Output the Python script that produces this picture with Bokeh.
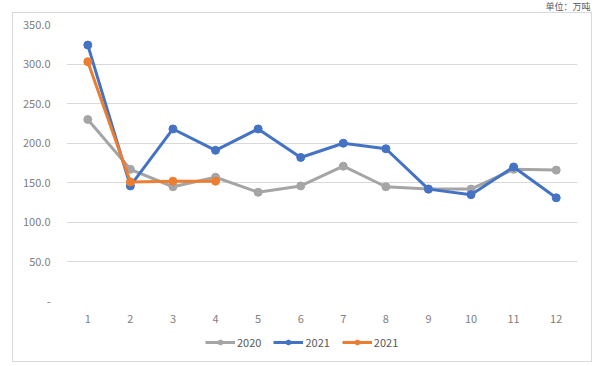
from bokeh.plotting import figure
from bokeh.layouts import column
from bokeh.models import (ColumnDataSource, Legend, LegendItem, CustomJSTickFormatter,
                          FixedTicker, Range1d, Label)
from bokeh.embed import file_html
from bokeh.resources import INLINE

months = [1, 2, 3, 4, 5, 6, 7, 8, 9, 10, 11, 12]
s2020 = [230, 167, 145, 157, 138, 146, 171, 145, 142, 142, 167, 166]
s2021a = [324, 146, 218, 191, 218, 182, 200, 193, 142, 135, 170, 131]
s2021b_months = [1, 2, 3, 4]
s2021b = [303, 151, 152, 152]
yticks = [0, 50, 100, 150, 200, 250, 300, 350]
series_names = ["2020", "2021", "2021"]
series_colors = ["#A5A5A5", "#4472C4", "#ED7D31"]
unit_text = "单位：万吨"

FONT = "Noto Sans CJK SC"

# unit strip on top
p0 = figure(width=600, height=12, output_backend="svg", toolbar_location=None,
            x_range=Range1d(0, 600), y_range=Range1d(0, 12),
            x_axis_type=None, y_axis_type=None, min_border=0)
p0.outline_line_color = None
p0.grid.grid_line_color = None
p0.add_layout(Label(x=590, y=0, text=unit_text, text_align="right", text_baseline="bottom",
                    text_font=FONT, text_font_size="9px", text_color="#595959"))

# main chart
p = figure(width=578, height=312, output_backend="svg", toolbar_location=None,
           x_range=Range1d(0.5, 12.5), y_range=Range1d(0, 350),
           min_border_left=53, min_border_right=14, min_border_top=11, min_border_bottom=23)
p.outline_line_color = None
p.background_fill_color = "white"
p.border_fill_color = "white"
p.xgrid.grid_line_color = None
p.ygrid.grid_line_color = "#d9d9d9"
p.ygrid.grid_line_width = 1
p.xaxis.ticker = FixedTicker(ticks=months)
p.yaxis.ticker = FixedTicker(ticks=yticks)
p.yaxis.formatter = CustomJSTickFormatter(code="return tick == 0 ? '-' : tick.toFixed(1);")
for ax in (p.xaxis, p.yaxis):
    ax.axis_line_color = None
    ax.major_tick_line_color = None
    ax.minor_tick_line_color = None
    ax.major_label_text_color = "#808080"
    ax.major_label_text_font = FONT
    ax.major_label_text_font_size = "11px"
p.yaxis.major_label_standoff = 10
p.xaxis.major_label_standoff = 7

sources = [ColumnDataSource(dict(x=months, y=s2020)),
           ColumnDataSource(dict(x=months, y=s2021a)),
           ColumnDataSource(dict(x=s2021b_months, y=s2021b))]
for src, col in zip(sources, series_colors):
    p.line("x", "y", source=src, line_color=col, line_width=3)
    p.scatter("x", "y", source=src, size=8, fill_color=col, line_color=col)

# legend strip (same sources; their points fall outside this strip's ranges)
p2 = figure(width=578, height=36, output_backend="svg", toolbar_location=None,
            x_range=Range1d(1000, 1001), y_range=Range1d(1000, 1001),
            x_axis_type=None, y_axis_type=None, min_border=0)
p2.outline_line_color = None
p2.grid.grid_line_color = None
items = []
for name, col, src in zip(series_names, series_colors, sources):
    l = p2.line("x", "y", source=src, line_color=col, line_width=3)
    s = p2.scatter("x", "y", source=src, size=8, fill_color=col, line_color=col)
    items.append(LegendItem(label=name, renderers=[l, s]))
legend = Legend(items=items, orientation="horizontal", location=(139, 11),
                border_line_color=None, background_fill_alpha=0,
                label_text_font=FONT, label_text_font_size="11px", label_text_color="#595959",
                glyph_width=30, glyph_height=12, label_standoff=2, spacing=12,
                padding=4, margin=0)
p2.add_layout(legend)

inner = column(p, p2, spacing=0, margin=(0, 0, 0, 12),
               styles={"border": "1px solid #d9d9d9"})
layout = column(p0, inner, spacing=0)

open("out.html", "w").write(file_html(layout, INLINE))
